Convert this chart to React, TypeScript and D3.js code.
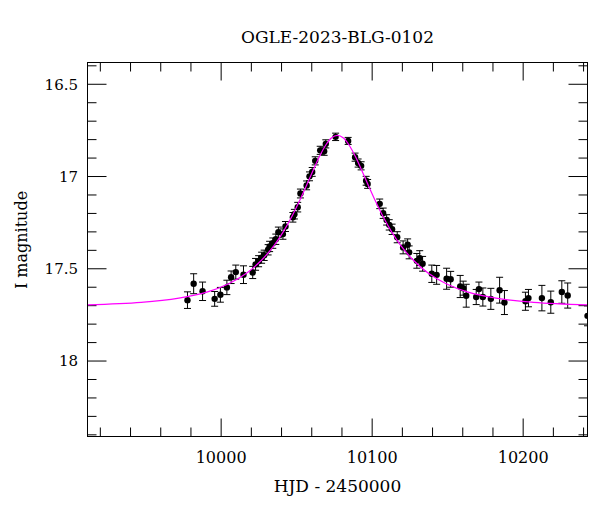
import React from "react";
import * as d3 from "d3";

const titleText = "OGLE-2023-BLG-0102";
const xLabel = "HJD - 2450000";
const yLabel = "I magnitude";

const xMajorTicks = [10000, 10100, 10200];
const yMajorTicks = [16.5, 17, 17.5, 18];
const yTickLabels = ["16.5", "17", "17.5", "18"];

const obsT = [
  9977.7, 9981.8, 9987.7, 9995.7, 9999.5, 10003.8, 10006.6, 10009.7, 10014.8, 10020.9,
  10022.8, 10024.8, 10026.8, 10028.5, 10031.1, 10032.1, 10034.2, 10036.2, 10037.9, 10040.9,
  10042.6, 10047.5, 10048.5, 10050.7, 10052.5, 10056.6, 10058.5, 10060.3, 10062.3, 10065.6,
  10068.2, 10069.3, 10075.8, 10084.1, 10088.7, 10090.7, 10092.7, 10096.0, 10097.0, 10105.0,
  10107.3, 10109.6, 10111.3, 10113.2, 10116.6, 10120.5, 10123.5, 10124.5, 10129.6, 10131.5,
  10133.4, 10139.5, 10142.7, 10149.3, 10152.0, 10158.3, 10160.3, 10162.3, 10168.9, 10170.7,
  10173.3, 10178.6, 10184.4, 10187.6, 10201.5, 10203.5, 10212.4, 10218.3, 10225.6, 10229.5,
  10242.6,
];
const obsMag = [
  17.670, 17.581, 17.622, 17.663, 17.641, 17.601, 17.546, 17.518, 17.532, 17.520,
  17.476, 17.459, 17.440, 17.427, 17.397, 17.379, 17.361, 17.340, 17.302, 17.312,
  17.271, 17.221, 17.204, 17.166, 17.092, 17.048, 16.999, 16.975, 16.915, 16.858,
  16.863, 16.823, 16.785, 16.807, 16.895, 16.927, 16.942, 17.023, 17.040, 17.148,
  17.199, 17.235, 17.262, 17.286, 17.329, 17.384, 17.370, 17.411, 17.457, 17.442,
  17.473, 17.527, 17.533, 17.554, 17.557, 17.596, 17.605, 17.646, 17.653, 17.610,
  17.653, 17.663, 17.616, 17.683, 17.676, 17.659, 17.659, 17.681, 17.626, 17.645,
  17.755,
];
const obsErr = [
  0.045, 0.054, 0.050, 0.040, 0.040, 0.039, 0.034, 0.038, 0.048, 0.033,
  0.032, 0.030, 0.030, 0.028, 0.028, 0.028, 0.028, 0.028, 0.028, 0.028,
  0.027, 0.026, 0.026, 0.026, 0.024, 0.024, 0.024, 0.024, 0.022, 0.022,
  0.022, 0.022, 0.020, 0.019, 0.022, 0.022, 0.022, 0.024, 0.024, 0.026,
  0.028, 0.028, 0.028, 0.028, 0.030, 0.035, 0.032, 0.035, 0.040, 0.040,
  0.040, 0.047, 0.051, 0.057, 0.043, 0.060, 0.038, 0.062, 0.041, 0.038,
  0.049, 0.057, 0.070, 0.065, 0.049, 0.047, 0.069, 0.060, 0.061, 0.068,
  0.054,
];

const modelT = [
  9911, 9947, 9972, 9991, 10005, 10017, 10027, 10035, 10041, 10047, 10052, 10057, 10061,
  10065, 10069, 10073, 10077, 10081, 10085, 10089, 10093, 10097, 10102, 10107, 10113,
  10119, 10127, 10137, 10149, 10163, 10182, 10207, 10243,
];
const modelMag = [
  17.696, 17.682, 17.659, 17.625, 17.581, 17.523, 17.451, 17.374, 17.301, 17.214, 17.130,
  17.039, 16.965, 16.893, 16.833, 16.791, 16.777, 16.791, 16.833, 16.893, 16.965, 17.039,
  17.130, 17.214, 17.301, 17.374, 17.451, 17.523, 17.581, 17.625, 17.659, 17.682, 17.696,
];

const W = 600;
const H = 512;
const L = 87.5, R = 587.5, T = 62.5, B = 436.5;
const FONT = "'DejaVu Serif', serif";

export default function App() {
  const x = d3.scaleLinear().domain([9911.5, 10242.6]).range([L, R]);
  const y = d3.scaleLinear().domain([16.382, 18.409]).range([T, B]);

  const xMinor = d3.range(9920, 10242, 20).filter((v) => !xMajorTicks.includes(v));
  const yMinor = d3.range(16.4, 18.41, 0.1).map((v) => Math.round(v * 10) / 10).filter((v) => !yMajorTicks.includes(v));

  const line = d3
    .line<number>()
    .x((_, i) => x(modelT[i]))
    .y((d) => y(d))
    .curve(d3.curveCatmullRom.alpha(0.5));

  const cap = 3.5;

  return (
    <svg width={W} height={H} style={{ position: "absolute", left: 0, top: 0, background: "#fff" }}>
      <defs>
        <clipPath id="plotclip">
          <rect x={L} y={T} width={R - L} height={B - T} />
        </clipPath>
      </defs>
      <rect x={0} y={0} width={W} height={H} fill="#fff" />
      <text x={(L + R) / 2} y={43} textAnchor="middle" fontFamily={FONT} fontSize={17} fill="#000">
        {titleText}
      </text>

      {/* ticks */}
      <g stroke="#000" strokeWidth={1}>
        {xMajorTicks.map((v) => (
          <g key={"xM" + v}>
            <line x1={x(v)} x2={x(v)} y1={B} y2={B - 18} />
            <line x1={x(v)} x2={x(v)} y1={T} y2={T + 18} />
          </g>
        ))}
        {xMinor.map((v) => (
          <g key={"xm" + v}>
            <line x1={x(v)} x2={x(v)} y1={B} y2={B - 9} />
            <line x1={x(v)} x2={x(v)} y1={T} y2={T + 9} />
          </g>
        ))}
        {yMajorTicks.map((v) => (
          <g key={"yM" + v}>
            <line x1={L} x2={L + 19} y1={y(v)} y2={y(v)} />
            <line x1={R} x2={R - 19} y1={y(v)} y2={y(v)} />
          </g>
        ))}
        {yMinor.map((v) => (
          <g key={"ym" + v}>
            <line x1={L} x2={L + 9} y1={y(v)} y2={y(v)} />
            <line x1={R} x2={R - 9} y1={y(v)} y2={y(v)} />
          </g>
        ))}
      </g>

      <g clipPath="url(#plotclip)">
        <g stroke="#000" strokeWidth={1}>
          {obsT.map((t, i) => {
            const cx = x(t);
            const y1 = y(obsMag[i] - obsErr[i]);
            const y2 = y(obsMag[i] + obsErr[i]);
            return (
              <g key={"e" + i}>
                <line x1={cx} x2={cx} y1={y1} y2={y2} />
                <line x1={cx - cap} x2={cx + cap} y1={y1} y2={y1} />
                <line x1={cx - cap} x2={cx + cap} y1={y2} y2={y2} />
              </g>
            );
          })}
        </g>
        <g fill="#000">
          {obsT.map((t, i) => (
            <circle key={"p" + i} cx={x(t)} cy={y(obsMag[i])} r={3.2} />
          ))}
        </g>
        <path d={line(modelMag) || ""} fill="none" stroke="#ff00ff" strokeWidth={1.2} />
      </g>

      <rect x={L} y={T} width={R - L} height={B - T} fill="none" stroke="#000" strokeWidth={1} />

      {xMajorTicks.map((v) => (
        <text key={"xl" + v} x={x(v)} y={463} textAnchor="middle" fontFamily={FONT} fontSize={16} fill="#000">
          {String(v)}
        </text>
      ))}
      {yMajorTicks.map((v, i) => (
        <text key={"yl" + v} x={78} y={y(v)} dy="0.36em" textAnchor="end" fontFamily={FONT} fontSize={15} fill="#000">
          {yTickLabels[i]}
        </text>
      ))}
      <text x={(L + R) / 2} y={492} textAnchor="middle" fontFamily={FONT} fontSize={17} fill="#000">
        {xLabel}
      </text>
      <text
        transform={`translate(27, 240) rotate(-90)`}
        textAnchor="middle"
        fontFamily={FONT}
        fontSize={16}
        fill="#000"
      >
        {yLabel}
      </text>
    </svg>
  );
}
